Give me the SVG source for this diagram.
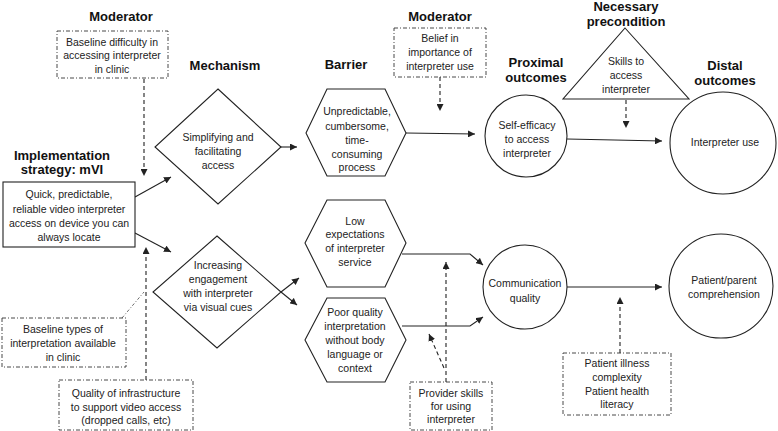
<svg xmlns="http://www.w3.org/2000/svg" width="778" height="431" viewBox="0 0 778 431">
<defs>
<marker id="ah" viewBox="0 0 10 10" refX="10" refY="5" markerWidth="7" markerHeight="7" markerUnits="userSpaceOnUse" orient="auto">
<path d="M0,0 L10,5 L0,10 z" fill="#222"/>
</marker>
</defs>
<style>
.h{font-family:"Liberation Sans",Arial,sans-serif;font-weight:bold;font-size:13px;fill:#111;text-anchor:middle}
.t{font-family:"Liberation Sans",Arial,sans-serif;font-size:10.5px;fill:#222;text-anchor:middle}
.s{fill:#fff;stroke:#222;stroke-width:1.1}
.d{fill:#fff;stroke:#333;stroke-width:0.9;stroke-dasharray:4 2 1 2}
.c{fill:none;stroke:#222;stroke-width:1.1}
.cd{fill:none;stroke:#222;stroke-width:1.1;stroke-dasharray:4 3}
.cdd{fill:none;stroke:#444;stroke-width:0.8;stroke-dasharray:3 2 1 2}
</style>
<rect width="778" height="431" fill="#fff"/>
<g id="headers">
<text class="h" x="121" y="21">Moderator</text>
<text class="h" x="225" y="70">Mechanism</text>
<text class="h" x="346" y="69">Barrier</text>
<text class="h" x="440" y="21">Moderator</text>
<text class="h" x="536" y="67">Proximal</text>
<text class="h" x="536" y="82">outcomes</text>
<text class="h" x="626" y="11">Necessary</text>
<text class="h" x="626" y="25.5">precondition</text>
<text class="h" x="725" y="70">Distal</text>
<text class="h" x="725" y="85">outcomes</text>
<text class="h" x="62" y="160">Implementation</text>
<text class="h" x="62" y="174">strategy: mVI</text>
</g>
<g id="connectors">
<line class="c" x1="135" y1="197" x2="171" y2="177" marker-end="url(#ah)"/>
<line class="c" x1="135" y1="233" x2="171" y2="252" marker-end="url(#ah)"/>
<line class="c" x1="281" y1="147" x2="297" y2="147" marker-end="url(#ah)"/>
<line class="c" x1="281" y1="292" x2="299" y2="278" marker-end="url(#ah)"/>
<line class="c" x1="281" y1="292" x2="297" y2="305" marker-end="url(#ah)"/>
<line class="c" x1="406" y1="133" x2="475" y2="134" marker-end="url(#ah)"/>
<polyline class="c" points="402,254 470,254 483,265" marker-end="url(#ah)"/>
<polyline class="c" points="402,326 470,326 483,317" marker-end="url(#ah)"/>
<line class="c" x1="567" y1="139" x2="662" y2="141" marker-end="url(#ah)"/>
<line class="c" x1="567" y1="287" x2="662" y2="287" marker-end="url(#ah)"/>
<line class="cd" x1="144" y1="79" x2="144" y2="176" marker-end="url(#ah)"/>
<line class="cd" x1="146" y1="380" x2="146" y2="247" marker-end="url(#ah)"/>
<line class="cdd" x1="122" y1="318" x2="144" y2="292"/>
<line class="cd" x1="440" y1="77" x2="440" y2="111" marker-end="url(#ah)"/>
<line class="cd" x1="626" y1="100" x2="626" y2="128" marker-end="url(#ah)"/>
<line class="cd" x1="446" y1="382" x2="446" y2="262" marker-end="url(#ah)"/>
<line class="cd" x1="444" y1="368" x2="429" y2="334" marker-end="url(#ah)"/>
<line class="cd" x1="620" y1="353" x2="620" y2="297" marker-end="url(#ah)"/>
</g>
<g id="mod1">
<rect class="d" x="57" y="31" width="111" height="47"/>
<text class="t" x="112" y="46">Baseline difficulty in</text>
<text class="t" x="112" y="59">accessing interpreter</text>
<text class="t" x="112" y="73">in clinic</text>
</g>
<g id="strategy">
<rect class="s" x="3" y="182" width="132" height="65"/>
<text class="t" x="69" y="198">Quick, predictable,</text>
<text class="t" x="69" y="213">reliable video interpreter</text>
<text class="t" x="69" y="227">access on device you can</text>
<text class="t" x="69" y="241">always locate</text>
</g>
<g id="mech1">
<polygon class="s" points="218,89 281,147 218,204 155,147"/>
<text class="t" x="218" y="141">Simplifying and</text>
<text class="t" x="218" y="155">facilitating</text>
<text class="t" x="218" y="169">access</text>
</g>
<g id="mech2">
<polygon class="s" points="217,236 281,292 217,348 153,292"/>
<text class="t" x="218" y="269">Increasing</text>
<text class="t" x="218" y="283">engagement</text>
<text class="t" x="218" y="297">with interpreter</text>
<text class="t" x="218" y="311">via visual cues</text>
</g>
<g id="barrier1">
<polygon class="s" points="327,89 385,89 406,133 385,176 327,176 306,133"/>
<text class="t" x="357" y="115">Unpredictable,</text>
<text class="t" x="357" y="130">cumbersome,</text>
<text class="t" x="357" y="144">time-</text>
<text class="t" x="357" y="158">consuming</text>
<text class="t" x="357" y="171">process</text>
</g>
<g id="barrier2">
<polygon class="s" points="327,200 385,200 406,243 385,287 327,287 305,243"/>
<text class="t" x="355" y="225">Low</text>
<text class="t" x="355" y="238">expectations</text>
<text class="t" x="355" y="252">of interpreter</text>
<text class="t" x="355" y="266">service</text>
</g>
<g id="barrier3">
<polygon class="s" points="327,298 385,298 406,340 385,382 327,382 305,340"/>
<text class="t" x="355" y="316">Poor quality</text>
<text class="t" x="355" y="330">interpretation</text>
<text class="t" x="355" y="344">without body</text>
<text class="t" x="355" y="358">language or</text>
<text class="t" x="355" y="372">context</text>
</g>
<g id="mod2">
<rect class="d" x="394" y="28" width="92" height="49"/>
<text class="t" x="440" y="42">Belief in</text>
<text class="t" x="440" y="56">importance of</text>
<text class="t" x="440" y="70">interpreter use</text>
</g>
<g id="selfefficacy">
<circle class="s" cx="526" cy="136" r="41"/>
<text class="t" x="527" y="129">Self-efficacy</text>
<text class="t" x="527" y="143">to access</text>
<text class="t" x="527" y="157">interpreter</text>
</g>
<g id="precondition">
<polygon class="s" points="625,28 689,99 563,99"/>
<text class="t" x="626" y="65">Skills to</text>
<text class="t" x="626" y="79">access</text>
<text class="t" x="626" y="93">interpreter</text>
</g>
<g id="interpuse">
<ellipse class="s" cx="723" cy="143" rx="53" ry="51"/>
<text class="t" x="725" y="146">Interpreter use</text>
</g>
<g id="communication">
<circle class="s" cx="525" cy="287" r="42"/>
<text class="t" x="525" y="287">Communication</text>
<text class="t" x="525" y="302">quality</text>
</g>
<g id="comprehension">
<ellipse class="s" cx="721" cy="286" rx="52" ry="52"/>
<text class="t" x="724" y="284">Patient/parent</text>
<text class="t" x="724" y="298">comprehension</text>
</g>
<g id="patient">
<rect class="d" x="563" y="353" width="108" height="62"/>
<text class="t" x="617" y="367">Patient illness</text>
<text class="t" x="617" y="381">complexity</text>
<text class="t" x="617" y="395">Patient health</text>
<text class="t" x="617" y="408">literacy</text>
</g>
<g id="provider">
<rect class="d" x="410" y="382" width="82" height="48"/>
<text class="t" x="451" y="397">Provider skills</text>
<text class="t" x="451" y="410">for using</text>
<text class="t" x="451" y="423">interpreter</text>
</g>
<g id="baselinetypes">
<rect class="d" x="2" y="318" width="124" height="49"/>
<text class="t" x="63" y="333">Baseline types of</text>
<text class="t" x="63" y="347">interpretation available</text>
<text class="t" x="63" y="361">in clinic</text>
</g>
<g id="infrastructure">
<rect class="d" x="59" y="380" width="134" height="50"/>
<text class="t" x="126" y="397">Quality of infrastructure</text>
<text class="t" x="126" y="411">to support video access</text>
<text class="t" x="126" y="424">(dropped calls, etc)</text>
</g>
</svg>
